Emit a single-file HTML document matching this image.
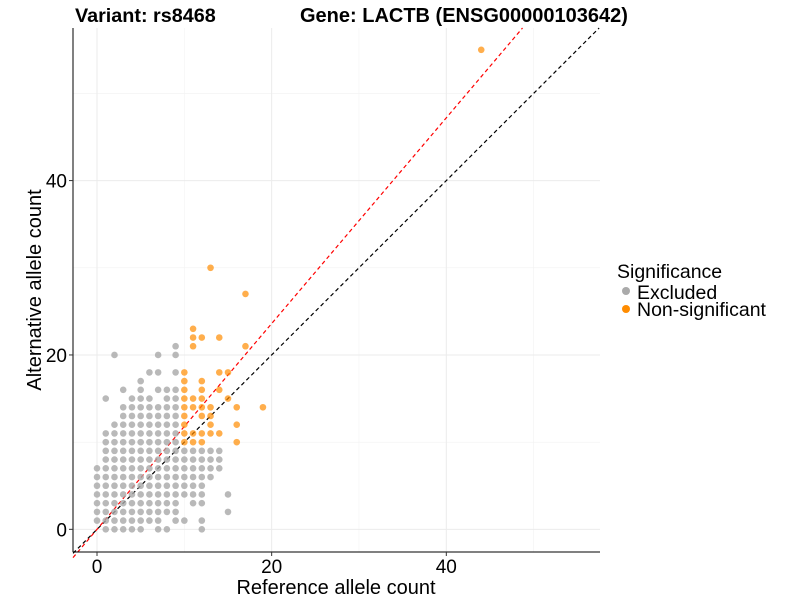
<!DOCTYPE html>
<html><head><meta charset="utf-8"><style>
body{margin:0;background:#fff;font-family:"Liberation Sans",Arial,sans-serif}
svg text{font-family:"Liberation Sans",Arial,sans-serif}
</style></head><body>
<svg id="chart" width="800" height="600">
<text x="75" y="22" font-size="19.8" font-weight="bold">Variant: rs8468</text>
<text x="300" y="22" font-size="20" font-weight="bold">Gene: LACTB (ENSG00000103642)</text>
<g id="grid"></g><g id="lines"></g><g id="pts"></g><g id="axes"></g>
<text x="336" y="594" font-size="20" text-anchor="middle">Reference allele count</text>
<text transform="translate(41,290) rotate(-90)" font-size="20" text-anchor="middle">Alternative allele count</text>
<g>
<text x="617" y="278" font-size="19.5">Significance</text>
<circle cx="626" cy="291" r="4" fill="#aaaaaa"/>
<text x="637" y="299" font-size="19.5">Excluded</text>
<circle cx="626" cy="309" r="4" fill="#ff8c00"/>
<text x="637" y="316" font-size="19.5">Non-significant</text>
</g>
</svg>
<script>
const xTicks=[0,20,40];
const yTicks=[0,20,40];
const minorTicks=[10,30,50];
const redSlope=1.18;
const grayPoints=[[1,0],[2,0],[3,0],[4,0],[5,0],[7,0],[8,0],[12,0],
[0,1],[1,1],[2,1],[3,1],[4,1],[5,1],[6,1],[7,1],[9,1],[10,1],[12,1],
[0,2],[1,2],[2,2],[3,2],[4,2],[5,2],[6,2],[7,2],[8,2],[9,2],[15,2],
[0,3],[1,3],[2,3],[3,3],[4,3],[5,3],[6,3],[7,3],[8,3],[9,3],[11,3],[12,3],
[0,4],[1,4],[2,4],[3,4],[4,4],[5,4],[6,4],[7,4],[8,4],[9,4],[10,4],[11,4],[12,4],[15,4],
[0,5],[1,5],[2,5],[3,5],[4,5],[5,5],[6,5],[7,5],[8,5],[9,5],[10,5],[11,5],[12,5],
[0,6],[1,6],[2,6],[3,6],[4,6],[5,6],[6,6],[7,6],[8,6],[9,6],[10,6],[11,6],[12,6],[13,6],
[0,7],[1,7],[2,7],[3,7],[4,7],[5,7],[6,7],[7,7],[8,7],[9,7],[10,7],[11,7],[12,7],[13,7],[14,7],
[1,8],[2,8],[3,8],[4,8],[5,8],[6,8],[7,8],[8,8],[9,8],[10,8],[11,8],[12,8],[13,8],[14,8],
[1,9],[2,9],[3,9],[4,9],[5,9],[6,9],[7,9],[8,9],[9,9],[10,9],[11,9],[12,9],[13,9],[14,9],
[1,10],[2,10],[3,10],[4,10],[5,10],[6,10],[7,10],[8,10],[9,10],
[1,11],[2,11],[3,11],[4,11],[5,11],[6,11],[7,11],[8,11],[9,11],
[2,12],[3,12],[4,12],[5,12],[6,12],[7,12],[8,12],[9,12],
[3,13],[4,13],[5,13],[6,13],[7,13],[8,13],[9,13],
[3,14],[4,14],[5,14],[6,14],[7,14],[8,14],[9,14],
[1,15],[4,15],[5,15],[6,15],[8,15],[9,15],
[3,16],[5,16],[7,16],[8,16],[9,16],
[5,17],[6,18],[7,18],[9,18],[2,20],[7,20],[9,20],[9,21]];
const orangePoints=[[10,10],[11,10],[12,10],[16,10],
[10,11],[11,11],[12,11],[13,11],[14,11],
[10,12],[13,12],[16,12],[10,13],[12,13],[13,13],
[10,14],[11,14],[12,14],[13,14],[16,14],[19,14],
[10,15],[11,15],[12,15],[15,15],[10,16],[12,16],[14,16],
[10,17],[12,17],[10,18],[14,18],[15,18],
[11,21],[17,21],[11,22],[12,22],[14,22],[11,23],[17,27],[13,30],[44,55]];
const L=73,R=600,T=28,B=552,xmin=-2.75,xmax=57.6,ymin=-2.6,ymax=57.5;
const sx=v=>L+(v-xmin)/(xmax-xmin)*(R-L);
const sy=v=>B-(v-ymin)/(ymax-ymin)*(B-T);
const NS="http://www.w3.org/2000/svg";
function mk(p,t,a){const e=document.createElementNS(NS,t);for(const k in a)e.setAttribute(k,a[k]);p.appendChild(e);return e;}
const grid=document.getElementById('grid');
minorTicks.forEach(v=>{
 let g=mk(grid,'line',{x1:sx(v),x2:sx(v),y1:T,y2:B,stroke:'#f2f2f2','stroke-width':0.6});
 
 let h=mk(grid,'line',{x1:L,x2:R,y1:sy(v),y2:sy(v),stroke:'#f2f2f2','stroke-width':0.6});
 
});
xTicks.forEach(v=>{
 let g=mk(grid,'line',{x1:sx(v),x2:sx(v),y1:T,y2:B,stroke:'#ebebeb','stroke-width':1});
 
});
yTicks.forEach(v=>{
 let g=mk(grid,'line',{x1:L,x2:R,y1:sy(v),y2:sy(v),stroke:'#ebebeb','stroke-width':1});
 
});
const lines=document.getElementById('lines');
function clipLine(slope,color,name){
 const x0=xmin, y0=slope*x0; let x1=xmax,y1=slope*x1;
 if(y1>ymax){y1=ymax;x1=ymax/slope;}
 let l=mk(lines,'line',{x1:sx(x0),y1:sy(y0),x2:sx(x1),y2:sy(y1),stroke:color,'stroke-width':1.2,'stroke-dasharray':'4,3'});
 
}
const pts=document.getElementById('pts');
grayPoints.forEach(p=>{
 let c=mk(pts,'circle',{cx:sx(p[0]),cy:sy(p[1]),r:3.3,fill:'#a8a8a8','fill-opacity':0.8});
 
});
orangePoints.forEach(p=>{
 let c=mk(pts,'circle',{cx:sx(p[0]),cy:sy(p[1]),r:3.3,fill:'#ff8c00','fill-opacity':0.7});
 
});
clipLine(1,'#000','identity-line');
clipLine(redSlope,'#ff0000','fitted-ratio-line');
const ax=document.getElementById('axes');
let a1=mk(ax,'line',{x1:L,x2:L,y1:T,y2:B,stroke:'#000','stroke-width':1});

let a2=mk(ax,'line',{x1:L,x2:R,y1:B,y2:B,stroke:'#000','stroke-width':1});

xTicks.forEach(v=>{
 let t=mk(ax,'line',{x1:sx(v),x2:sx(v),y1:B,y2:B+4,stroke:'#333'});
 
 let tx=mk(ax,'text',{x:sx(v),y:B+21,'font-size':19,'text-anchor':'middle'});tx.textContent=v;
 
});
yTicks.forEach(v=>{
 let t=mk(ax,'line',{x1:L-4,x2:L,y1:sy(v),y2:sy(v),stroke:'#333'});
 
 let tx=mk(ax,'text',{x:L-6,y:sy(v)+7,'font-size':19,'text-anchor':'end'});tx.textContent=v;
 
});
</script>
</body></html>
